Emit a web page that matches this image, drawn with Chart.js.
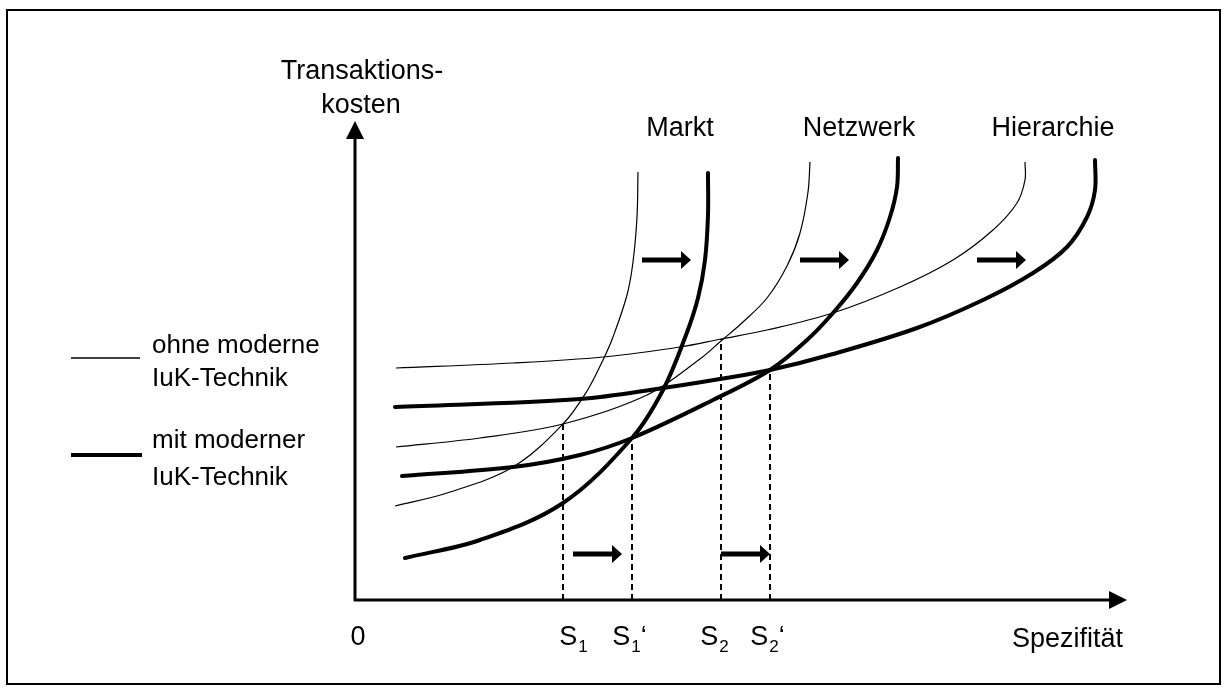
<!DOCTYPE html>
<html>
<head>
<meta charset="utf-8">
<script src="https://cdn.jsdelivr.net/npm/chart.js@4/dist/chart.umd.min.js"></script>
<style>
  html, body { margin: 0; background: #fff; }
  canvas { display: block; }
</style>
</head>
<body>
<canvas id="c" width="1226" height="688"></canvas>
<script>
// x = Spezifität, y = Transaktionskosten
var marktOhne = [[40,94],[92,107],[158,133],[208,176],[232,209],[248,240],[258,263],[272,305],[278,338],[282,383],[283,428]]
var marktMit = [[50,42],[125,60],[208,97],[277,162],[308,210],[331,265],[343,302],[350,340],[353,385],[353,427]]
var netzOhne = [[41,153],[125,162],[208,176],[292,205],[345,241],[366,259],[388,278],[412,302],[432,334],[445,367],[453,408],[455,438]]
var netzMit = [[47,124],[158,133],[225,145],[277,162],[358,200],[415,230],[452,260],[478,287],[502,317],[522,350],[535,383],[542,413],[543,442]]
var hierOhne = [[41,232],[158,237],[248,243],[325,253],[366,261],[412,270],[478,287],[545,313],[598,340],[638,370],[662,397],[670,420],[670,438]]
var hierMit = [[40,193],[225,201],[308,212],[365,221],[415,230],[478,246],[562,272],[628,300],[678,327],[712,353],[732,383],[740,410],[740,440]]

var sValues = [208, 277, 366, 415]
var sHeights = [176, 162, 261, 230]
var sSubs = ['1', '1', '2', '2']
var sPrimes = ['', '\u2018', '', '\u2018']
var sNudge = [10, -3, -7, -3]

var formNames = ['Markt', 'Netzwerk', 'Hierarchie']
var formLabelX = [325, 504, 698]

var shiftTop = [[287, 336], [445, 494], [622, 671]]
var shiftTopY = 340
var shiftBottom = [[218, 267], [366, 415]]
var shiftBottomY = 46

var FONT = '"Liberation Sans", Arial, sans-serif'

function pts(arr) {
  return arr.map(function(p) { return { x: p[0], y: p[1] } })
}

function curve(arr, thick) {
  return {
    data: pts(arr),
    showLine: true,
    borderColor: '#000',
    borderWidth: thick ? 4 : 1.2,
    borderCapStyle: thick ? 'round' : 'butt',
    tension: 0.35,
    pointRadius: 0,
    fill: false
  }
}

var datasets = [
  curve(marktOhne, false), curve(netzOhne, false), curve(hierOhne, false),
  curve(marktMit, true), curve(netzMit, true), curve(hierMit, true)
]
sValues.forEach(function(s, i) {
  datasets.push({
    data: [{ x: s, y: 0 }, { x: s, y: sHeights[i] }],
    showLine: true,
    borderColor: '#000',
    borderWidth: 2,
    borderDash: [6, 4],
    pointRadius: 0
  })
})

function arrow(ctx, x1, x2, y) {
  ctx.save()
  ctx.fillStyle = '#000'
  ctx.strokeStyle = '#000'
  ctx.lineWidth = 5
  ctx.beginPath()
  ctx.moveTo(x1, y)
  ctx.lineTo(x2 - 8, y)
  ctx.stroke()
  ctx.beginPath()
  ctx.moveTo(x2, y)
  ctx.lineTo(x2 - 10, y - 9)
  ctx.lineTo(x2 - 10, y + 9)
  ctx.closePath()
  ctx.fill()
  ctx.restore()
}

var decor = {
  id: 'decor',
  beforeDatasetsDraw: function(chart) {
    var ctx = chart.ctx
    var xs = chart.scales.x, ys = chart.scales.y
    var x0 = xs.getPixelForValue(0), y0 = ys.getPixelForValue(0)
    var xEnd = xs.getPixelForValue(xs.max), yEnd = ys.getPixelForValue(ys.max)
    ctx.save()
    // Rahmen
    ctx.strokeStyle = '#000'
    ctx.lineWidth = 2
    ctx.strokeRect(7, 10, 1213, 674)
    // Achsen
    ctx.lineWidth = 3
    ctx.beginPath()
    ctx.moveTo(x0, y0 + 1)
    ctx.lineTo(x0, yEnd + 16)
    ctx.moveTo(x0 - 1, y0)
    ctx.lineTo(xEnd - 16, y0)
    ctx.stroke()
    ctx.fillStyle = '#000'
    ctx.beginPath()
    ctx.moveTo(x0, yEnd)
    ctx.lineTo(x0 - 9, yEnd + 18)
    ctx.lineTo(x0 + 9, yEnd + 18)
    ctx.closePath()
    ctx.fill()
    ctx.beginPath()
    ctx.moveTo(xEnd, y0)
    ctx.lineTo(xEnd - 18, y0 - 9)
    ctx.lineTo(xEnd - 18, y0 + 9)
    ctx.closePath()
    ctx.fill()
    ctx.restore()
  },
  afterDatasetsDraw: function(chart) {
    var ctx = chart.ctx
    var xs = chart.scales.x, ys = chart.scales.y
    shiftTop.forEach(function(a) {
      arrow(ctx, xs.getPixelForValue(a[0]), xs.getPixelForValue(a[1]), ys.getPixelForValue(shiftTopY))
    })
    shiftBottom.forEach(function(a) {
      arrow(ctx, xs.getPixelForValue(a[0]), xs.getPixelForValue(a[1]), ys.getPixelForValue(shiftBottomY))
    })

    ctx.save()
    ctx.fillStyle = '#000'
    ctx.textBaseline = 'alphabetic'
    ctx.font = '27px ' + FONT
    ctx.textAlign = 'center'
    var x0 = xs.getPixelForValue(0)
    ctx.fillText('Transaktions-', x0 + 7, 79)
    ctx.fillText('kosten', x0 + 6, 113)
    formNames.forEach(function(n, i) {
      ctx.fillText(n, xs.getPixelForValue(formLabelX[i]), 136)
    })
    ctx.fillText('0', x0 + 3, 645)
    ctx.textAlign = 'right'
    ctx.fillText('Spezifit\u00e4t', xs.getPixelForValue(xs.max) - 4, 647)

    // S-Beschriftungen mit Index
    ctx.textAlign = 'left'
    sValues.forEach(function(s, i) {
      var wS, wSub, wP, total, left
      ctx.font = '27px ' + FONT
      wS = ctx.measureText('S').width
      wP = ctx.measureText(sPrimes[i]).width
      ctx.font = '17px ' + FONT
      wSub = ctx.measureText(sSubs[i]).width
      total = wS + wSub + wP
      left = xs.getPixelForValue(s) + sNudge[i] - total / 2
      ctx.font = '27px ' + FONT
      ctx.fillText('S', left, 645)
      ctx.fillText(sPrimes[i], left + wS + wSub + 1, 645)
      ctx.font = '17px ' + FONT
      ctx.fillText(sSubs[i], left + wS + 1, 652)
    })

    // Legende links
    ctx.font = '26px ' + FONT
    ctx.fillText('ohne moderne', 152, 353)
    ctx.fillText('IuK-Technik', 152, 386)
    ctx.fillText('mit moderner', 152, 448)
    ctx.fillText('IuK-Technik', 152, 485)
    ctx.strokeStyle = '#000'
    ctx.lineWidth = 1.5
    ctx.beginPath()
    ctx.moveTo(71, 358)
    ctx.lineTo(140, 358)
    ctx.stroke()
    ctx.lineWidth = 4
    ctx.beginPath()
    ctx.moveTo(71, 455)
    ctx.lineTo(142, 455)
    ctx.stroke()
    ctx.restore()
  }
}

var ctx = document.getElementById('c').getContext('2d')
new Chart(ctx, {
  type: 'scatter',
  data: { datasets: datasets },
  options: {
    responsive: false,
    animation: false,
    devicePixelRatio: 1,
    events: [],
    layout: { padding: { left: 355, right: 99, top: 121, bottom: 88 } },
    plugins: { legend: { display: false }, tooltip: { enabled: false } },
    scales: {
      x: { type: 'linear', min: 0, max: 772, display: false },
      y: { type: 'linear', min: 0, max: 479, display: false }
    }
  },
  plugins: [decor]
})
</script>
</body>
</html>
